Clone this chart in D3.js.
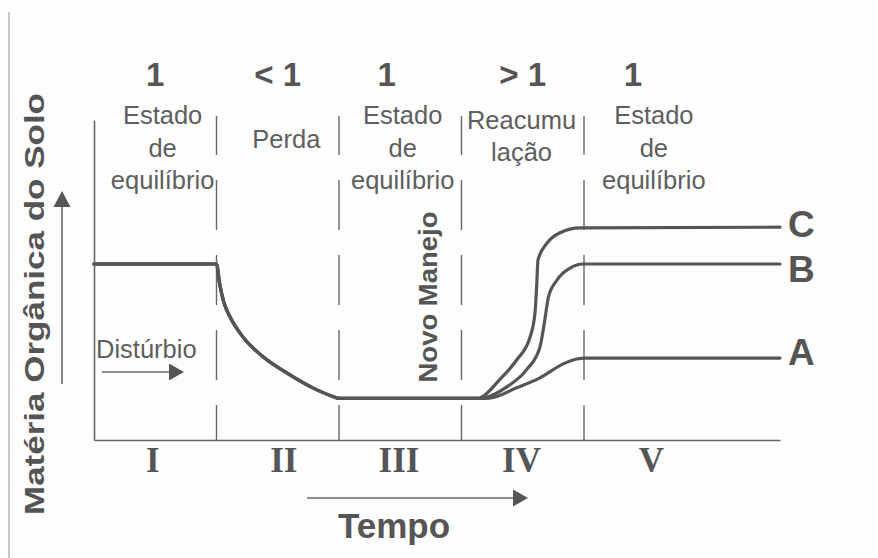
<!DOCTYPE html>
<html lang="pt">
<head>
<meta charset="utf-8">
<script src="https://cdn.jsdelivr.net/npm/d3@7"></script>
<style>
  html, body { margin: 0; padding: 0; background: #fdfdfd; }
  svg { display: block; }
</style>
</head>
<body>
<svg id="chart" width="878" height="558"></svg>
<script>
// Soil organic matter over time: shared history (equilibrium, loss, new low equilibrium)
const sharedPath = [[0, 55], [1.0, 55], [1.025, 49], [1.06, 43], [1.11, 38.5], [1.22, 32],
  [1.38, 26], [1.58, 20.8], [1.79, 16.2], [1.95, 13.6], [2.0, 13], [3.14, 13]];

// Recovery after the new management, one branch per scenario
const branchA = [[3.23, 13.1], [3.45, 16.3], [3.64, 19.4], [3.83, 23.8], [3.94, 25.3], [4.02, 25.6], [5.6, 25.6]];
const branchB = [[3.18, 13.1], [3.37, 16.6], [3.53, 21.9], [3.64, 29], [3.68, 37.5], [3.71, 44.7],
  [3.78, 50], [3.89, 53.8], [3.99, 55], [5.6, 55]];
const branchC = [[3.15, 13.1], [3.31, 18.8], [3.45, 25], [3.56, 32.2], [3.6, 39.7], [3.616, 50],
  [3.624, 56.2], [3.70, 61.6], [3.80, 64.7], [3.97, 66.3], [5.6, 66.5]];

const seriesNames = ["A", "B", "C"];
const phaseBoundaries = [1, 2, 3, 4];
const ratioLabels = ["1", "< 1", "1", "> 1", "1"];
const phaseLabels = [["Estado", "de", "equilíbrio"], ["Perda"], ["Estado", "de", "equilíbrio"],
  ["Reacumu", "lação"], ["Estado", "de", "equilíbrio"]];
const phaseNumerals = ["I", "II", "III", "IV", "V"];

// Layout (time units along the x scale, pixels otherwise)
const ratioAt = [0.5, 1.5, 2.39, 3.5, 4.4];
const phaseAt = [0.56, 1.57, 2.52, 3.49, 4.57];
const numeralAt = [0.48, 1.55, 2.49, 3.49, 4.55];
const phaseBaselines = { "3": [124, 157, 189], "1": [148], "2": [129, 161] };
const endLabelDy = [7, 18, 10];

const ink = "#555";
const softInk = "#5e5e5e";

const svg = d3.select("#chart");
const x = d3.scaleLinear().domain([0, 5.6]).range([94, 780]);
const y = d3.scaleLinear().domain([0, 100]).range([440, 120]);

// page edge
svg.append("line").attr("x1", 9).attr("x2", 9).attr("y1", 12).attr("y2", 558)
  .attr("stroke", "#b5b5b5").attr("stroke-width", 1.5);

// axes (domain lines only)
const xAxis = svg.append("g").attr("transform", `translate(0,${y(0)})`)
  .call(d3.axisBottom(x).tickValues([]).tickSizeOuter(0));
const yAxis = svg.append("g").attr("transform", `translate(${x(0)},0)`)
  .call(d3.axisLeft(y).tickValues([]).tickSizeOuter(0));
[xAxis, yAxis].forEach(g => g.select(".domain").attr("stroke", "#666").attr("stroke-width", 1.6));

// dashed phase boundaries
svg.append("g").selectAll("line").data(phaseBoundaries).join("line")
  .attr("x1", d => x(d)).attr("x2", d => x(d))
  .attr("y1", 116).attr("y2", y(0))
  .attr("stroke", "#666").attr("stroke-width", 1.4)
  .attr("stroke-dasharray", "50,25").attr("stroke-dashoffset", 11);

// curves
const line = d3.line().x(d => x(d[0])).y(d => y(d[1])).curve(d3.curveMonotoneX);
const branches = [branchA, branchB, branchC];
svg.append("g").selectAll("path").data(branches).join("path")
  .attr("d", b => line(sharedPath.concat(b)))
  .attr("fill", "none").attr("stroke", ink).attr("stroke-width", 3.2)
  .attr("stroke-linejoin", "round").attr("stroke-linecap", "round");

// scenario labels at the line ends
svg.append("g").selectAll("text").data(branches).join("text")
  .attr("x", b => x(b[b.length - 1][0]) + 8)
  .attr("y", (b, i) => y(b[b.length - 1][1]) + endLabelDy[i])
  .attr("font-family", "Liberation Sans, Arial, sans-serif")
  .attr("font-weight", "bold").attr("font-size", 37).attr("fill", ink)
  .text((b, i) => seriesNames[i]);

// ratio row
svg.append("g").selectAll("text").data(ratioLabels).join("text")
  .attr("x", (d, i) => x(ratioAt[i])).attr("y", 86)
  .attr("text-anchor", "middle")
  .attr("font-family", "Liberation Sans, Arial, sans-serif")
  .attr("font-weight", "bold").attr("font-size", 33).attr("fill", ink)
  .text(d => d);

// phase descriptions
const phaseG = svg.append("g")
  .attr("font-family", "Liberation Sans, Arial, sans-serif")
  .attr("font-size", 25.5).attr("fill", softInk).attr("text-anchor", "middle");
phaseLabels.forEach((lines, i) => {
  const base = phaseBaselines[String(lines.length)];
  lines.forEach((t, j) => {
    phaseG.append("text").attr("x", x(phaseAt[i])).attr("y", base[j]).text(t);
  });
});

// roman numerals
svg.append("g").selectAll("text").data(phaseNumerals).join("text")
  .attr("x", (d, i) => x(numeralAt[i])).attr("y", 472)
  .attr("text-anchor", "middle")
  .attr("font-family", "Liberation Serif, 'Times New Roman', serif")
  .attr("font-weight", "bold").attr("font-size", 35).attr("fill", ink)
  .text(d => d);

// "Novo Manejo" marker
svg.append("text")
  .attr("transform", "translate(437,297) rotate(-90)")
  .attr("text-anchor", "middle")
  .attr("font-family", "Liberation Sans, Arial, sans-serif")
  .attr("font-weight", "bold").attr("font-size", 26).attr("fill", ink)
  .attr("textLength", 171).attr("lengthAdjust", "spacingAndGlyphs")
  .text("Novo Manejo");

// disturbance note
svg.append("text").attr("x", 96).attr("y", 358)
  .attr("font-family", "Liberation Sans, Arial, sans-serif")
  .attr("font-size", 25.5).attr("fill", softInk).text("Distúrbio");

function arrow(x1, y1, x2, y2, head, half) {
  const ang = Math.atan2(y2 - y1, x2 - x1);
  const bx = x2 - head * Math.cos(ang), by = y2 - head * Math.sin(ang);
  const g = svg.append("g");
  g.append("line").attr("x1", x1).attr("y1", y1).attr("x2", bx).attr("y2", by)
    .attr("stroke", "#666").attr("stroke-width", 1.6);
  const px = -Math.sin(ang) * half, py = Math.cos(ang) * half;
  g.append("polygon")
    .attr("points", [[x2, y2], [bx + px, by + py], [bx - px, by - py]].map(p => p.join(",")).join(" "))
    .attr("fill", "#555");
}
arrow(102, 372, 184, 372, 15, 8.5);   // disturbance
arrow(307, 498, 528, 498, 15, 8.5);   // time
arrow(62, 384, 62, 191, 16, 8.5);     // organic matter

// axis titles
svg.append("text").attr("x", 394).attr("y", 538).attr("text-anchor", "middle")
  .attr("font-family", "Liberation Sans, Arial, sans-serif")
  .attr("font-weight", "bold").attr("font-size", 35).attr("fill", ink).text("Tempo");

svg.append("text")
  .attr("transform", "translate(44,304) rotate(-90)")
  .attr("text-anchor", "middle")
  .attr("font-family", "Liberation Sans, Arial, sans-serif")
  .attr("font-weight", "bold").attr("font-size", 28).attr("fill", ink)
  .attr("textLength", 422).attr("lengthAdjust", "spacingAndGlyphs")
  .text("Matéria Orgânica do Solo");
</script>
</body>
</html>
